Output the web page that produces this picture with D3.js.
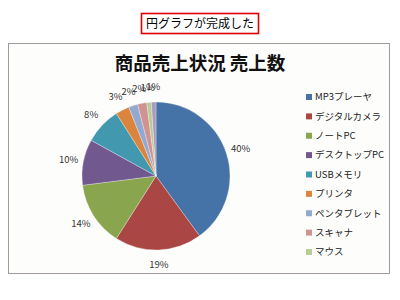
<!DOCTYPE html>
<html>
<head>
<meta charset="utf-8">
<script src="https://cdn.jsdelivr.net/npm/d3@7"></script>
<style>
	body { margin: 0; background: #fff; }
	svg text { font-family: "Noto Sans CJK JP", "DejaVu Sans", sans-serif; }
</style>
</head>
<body>
<div id="main"></div>
<script>
var categories = ["MP3プレーヤ", "デジタルカメラ", "ノートPC", "デスクトップPC", "USBメモリ", "プリンタ", "ペンタブレット", "スキャナ", "マウス", "キーボード"];
var values = [40, 19, 14, 10, 8, 3, 2, 2, 1, 1];
var colors = ["#4572a7", "#aa4643", "#89a54e", "#71588f", "#4198af", "#db843d", "#93a9cf", "#d19392", "#b9cd96", "#a99bbd"];
var legendCount = 9;

var chart = (function(){
	"use strict";

	var width = 400, height = 300;
	var svg = d3.select("#main").append("svg").attr("width", width).attr("height", height);

	function caption(){
		svg.append("rect").attr("x", 141.5).attr("y", 13.5).attr("width", 117).attr("height", 20)
			.attr("fill", "#fff").attr("stroke", "#e00000").attr("stroke-width", 1.6);
		svg.append("text").attr("x", 200).attr("y", 28).attr("text-anchor", "middle")
			.attr("font-size", 12).attr("fill", "#000").text("円グラフが完成した");
	}

	function frame(){
		svg.append("rect").attr("x", 8.5).attr("y", 43.5).attr("width", 381).attr("height", 230)
			.attr("fill", "#fdfefc").attr("stroke", "#a09a9a").attr("stroke-width", 1);
		svg.append("text").attr("x", 200).attr("y", 70).attr("text-anchor", "middle")
			.attr("font-size", 18.5).attr("font-weight", "bold").attr("fill", "#111")
			.text("商品売上状況 売上数");
	}

	function pie(){
		var cx = 156, cy = 176, r = 74;
		var arcs = d3.pie().sort(null).value(function(d){ return d; })(values);
		var arc = d3.arc().innerRadius(0).outerRadius(r);
		var labelArc = d3.arc().innerRadius(89).outerRadius(89);
		var total = d3.sum(values);
		var g = svg.append("g").attr("transform", "translate(" + cx + "," + cy + ")");

		g.selectAll("path.slice").data(arcs).enter().append("path")
			.attr("class", "slice")
			.attr("d", arc)
			.attr("fill", function(d, i){ return colors[i]; })
			.attr("stroke", "#fff").attr("stroke-width", 0.3);

		g.selectAll("text.lbl").data(arcs).enter().append("text")
			.attr("class", "lbl")
			.attr("transform", function(d){ return "translate(" + labelArc.centroid(d) + ")"; })
			.attr("text-anchor", "middle").attr("dy", "0.35em")
			.attr("font-size", 9.5).attr("fill", "#333")
			.text(function(d){ return Math.round(d.value / total * 100) + "%"; });
	}

	function legend(){
		var y = d3.scaleLinear().domain([0, legendCount - 1]).range([97, 252]);
		var items = svg.append("g").selectAll("g").data(categories.slice(0, legendCount)).enter().append("g")
			.attr("transform", function(d, i){ return "translate(306," + y(i) + ")"; });
		items.append("rect").attr("x", 0).attr("y", -3).attr("width", 6).attr("height", 6)
			.attr("fill", function(d, i){ return colors[i]; });
		items.append("text").attr("x", 9).attr("dy", "0.35em")
			.attr("font-size", 9.5).attr("fill", "#222")
			.text(function(d){ return d; });
	}

	return { caption: caption, frame: frame, pie: pie, legend: legend };
})();

chart.caption();
chart.frame();
chart.pie();
chart.legend();
</script>
</body>
</html>
